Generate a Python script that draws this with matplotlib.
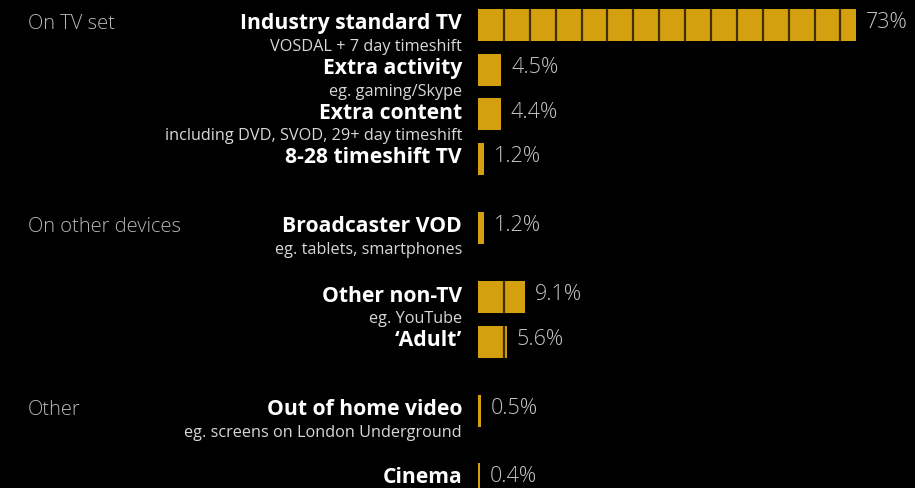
import matplotlib
matplotlib.use("Agg")
import matplotlib.pyplot as plt
import numpy as np

# ---- data ----
titles = ["Industry standard TV", "Extra activity", "Extra content", "8-28 timeshift TV",
          "Broadcaster VOD", "Other non-TV", "\u2018Adult\u2019", "Out of home video", "Cinema"]
subtitles = ["VOSDAL + 7 day timeshift", "eg. gaming/Skype",
             "including DVD, SVOD, 29+ day timeshift", "",
             "eg. tablets, smartphones", "eg. YouTube", "",
             "eg. screens on London Underground", ""]
values = [73, 4.5, 4.4, 1.2, 1.2, 9.1, 5.6, 0.5, 0.4]
value_labels = ["73%", "4.5%", "4.4%", "1.2%", "1.2%", "9.1%", "5.6%", "0.5%", "0.4%"]
groups = ["On TV set", "On other devices", "Other"]
group_first_row = [0, 4, 7]

# ---- layout ----
row_pos = [0, 1, 2, 3, 4.55, 6.1, 7.1, 8.65, 10.17]
SEG = 5.0
W, H = 915, 488
px_per_row = 44.6
px_per_pct = 5.178
left_px = 478
top_px = 25

BG = "black"
BAR = "#D4A00F"
DIV = "#3e2e00"
FONT = ["Open Sans", "DejaVu Sans"]

fig = plt.figure(figsize=(W / 100, H / 100), dpi=100, facecolor=BG)
ax = fig.add_axes([left_px / W, 0, 1 - left_px / W, 1])
ax.set_facecolor(BG)
ax.set_xlim(0, (W - left_px) / px_per_pct)
ax.set_ylim((H - top_px) / px_per_row, -top_px / px_per_row)
ax.axis("off")

bar_h = 32 / px_per_row
for y, v in zip(row_pos, values):
    nfull = int(v // SEG)
    widths = [SEG] * nfull
    rem = v - nfull * SEG
    if rem > 1e-9:
        widths.append(rem)
    lefts = np.concatenate([[0], np.cumsum(widths)[:-1]])
    ax.barh([y] * len(widths), widths, left=lefts, height=bar_h,
            color=BAR, edgecolor="none")
    for l in lefts[1:]:
        ax.plot([l, l], [y - bar_h / 2, y + bar_h / 2], color=DIV, lw=1.6,
                solid_capstyle="butt")

for y, v, lab in zip(row_pos, values, value_labels):
    ax.annotate(lab, (v, y), xytext=(7, 1.5), textcoords="offset points",
                ha="left", va="center", color="#c4c4c4", fontsize=15.5,
                family=FONT, fontweight="light")

label_x = 462 / W
for y, t, s in zip(row_pos, titles, subtitles):
    ypix = ax.transData.transform((0, y))[1]
    yf = ypix / H
    fig.text(label_x, yf + 1 / H, t, ha="right", va="center", color="white",
             fontsize=15.2, fontweight="bold", family=FONT)
    if s:
        fig.text(label_x, yf - 22 / H, s, ha="right", va="center", color="#d8d8d8",
                 fontsize=11.7, family=FONT)

for g, r in zip(groups, group_first_row):
    ypix = ax.transData.transform((0, row_pos[r]))[1]
    fig.text(28 / W, ypix / H + 1 / H, g, ha="left", va="center", color="#b8b8b8",
             fontsize=14.5, family=FONT, fontweight="light")

fig.savefig("out.png", dpi=100, facecolor=BG)
